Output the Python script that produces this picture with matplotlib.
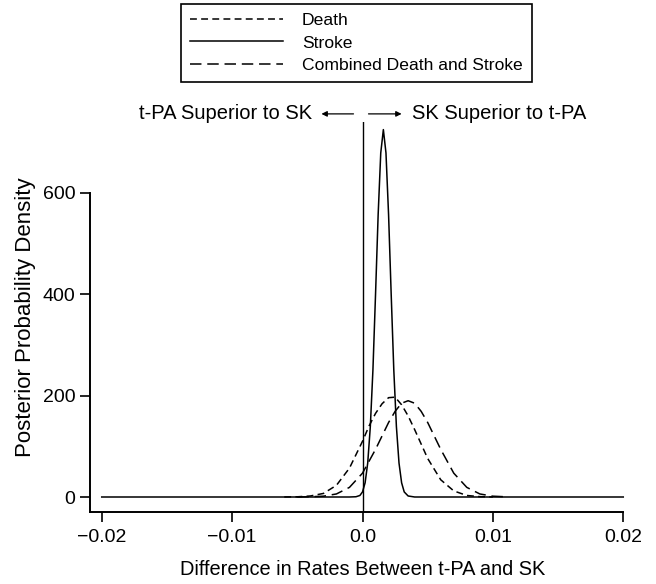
import matplotlib
matplotlib.use("Agg")
import matplotlib.pyplot as plt

plt.rcParams['font.family'] = ['Liberation Sans', 'DejaVu Sans']

# ---- data ----
death_x = [-0.0060, -0.0050, -0.0040, -0.0030, -0.0020, -0.0010, 0.0000, 0.0005, 0.0010,
           0.0015, 0.0020, 0.0025, 0.0030, 0.0035, 0.0040, 0.0050, 0.0060, 0.0070,
           0.0080, 0.0090, 0.0100]
death_y = [0.1, 0.4, 2, 7, 23, 57, 110, 140, 165, 184, 196, 197, 182, 160, 133, 76, 34,
           12, 3, 0.7, 0.1]

stroke_x = [-0.0200, -0.0010, -0.0005, -0.0002, 0.0000, 0.0002, 0.0004, 0.0006, 0.0008,
            0.0010, 0.0012, 0.0014, 0.0016, 0.0018, 0.0020, 0.0022, 0.0024, 0.0026,
            0.0028, 0.0030, 0.0032, 0.0035, 0.0040, 0.0200]
stroke_y = [0, 0, 0.5, 3, 10, 28, 67, 139, 251, 400, 557, 679, 725, 679, 557, 400, 251,
            139, 67, 28, 10, 2, 0, 0]

comb_x = [-0.0050, -0.0040, -0.0030, -0.0020, -0.0010, 0.0000, 0.0010, 0.0020, 0.0025,
          0.0030, 0.0035, 0.0040, 0.0045, 0.0050, 0.0060, 0.0070, 0.0080, 0.0090,
          0.0100, 0.0110]
comb_y = [0.1, 0.5, 1.6, 6, 19, 47, 94, 147, 169, 185, 190, 185, 169, 147, 94, 47, 19,
          6, 1.6, 0.4]

x_ticks = [-0.02, -0.01, 0.0, 0.01, 0.02]
x_ticklabels = ["\u22120.02", "\u22120.01", "0.0", "0.01", "0.02"]
y_ticks = [0, 200, 400, 600]

W, H = 656, 584
fig = plt.figure(figsize=(W / 100, H / 100), dpi=100)
left, right, top, bottom = 90, 635, 122, 512
ax = fig.add_axes([left / W, 1 - bottom / H, (right - left) / W, (bottom - top) / H])

xmin, xmax = -0.0209, 0.0209
ymin, ymax = -29.6, 740
ax.set_xlim(xmin, xmax)
ax.set_ylim(ymin, ymax)

lw = 1.1
l1, = ax.plot(death_x, death_y, color='black', lw=lw, dashes=(4.5, 2.8), label='Death')
l2, = ax.plot(stroke_x, stroke_y, color='black', lw=lw, label='Stroke')
l3, = ax.plot(comb_x, comb_y, color='black', lw=lw, dashes=(7.5, 3.8),
              label='Combined Death and Stroke')
ax.axvline(0, color='black', lw=1.0)

for s in ['top', 'right']:
    ax.spines[s].set_visible(False)
ax.spines['left'].set_bounds(ymin, 600)
ax.spines['bottom'].set_bounds(xmin, 0.02)
ax.spines['left'].set_linewidth(1.4)
ax.spines['bottom'].set_linewidth(1.4)

ax.set_xticks(x_ticks)
ax.set_xticklabels(x_ticklabels)
ax.set_yticks(y_ticks)
ax.tick_params(direction='out', length=7, width=1.2, labelsize=14)
ax.tick_params(axis='x', pad=5)
ax.tick_params(axis='y', pad=3.5)

ax.set_xlabel('Difference in Rates Between t-PA and SK', fontsize=14.4, labelpad=10)
ax.set_ylabel('Posterior Probability Density', fontsize=16, labelpad=5)

# arrows and direction labels
ya = 756
ax.annotate('', xy=(-0.00315, ya), xytext=(-0.00069, ya), annotation_clip=False,
            arrowprops=dict(arrowstyle='-|>', color='black', lw=0.9,
                            mutation_scale=8, shrinkA=0, shrinkB=0))
ax.annotate('', xy=(0.0030, ya), xytext=(0.00046, ya), annotation_clip=False,
            arrowprops=dict(arrowstyle='-|>', color='black', lw=0.9,
                            mutation_scale=8, shrinkA=0, shrinkB=0))
ax.text(-0.00384, ya, 't-PA Superior to SK', ha='right', va='center',
        fontsize=14.5, clip_on=False)
ax.text(0.00376, ya, 'SK Superior to t-PA', ha='left', va='center',
        fontsize=14.5, clip_on=False)

leg = fig.legend(handles=[l1, l2, l3], loc='upper left',
                 bbox_to_anchor=(181 / W, 1 - 4 / H), fontsize=12.6,
                 frameon=True, fancybox=False, edgecolor='black', framealpha=1,
                 handlelength=5.3, handletextpad=1.12, borderpad=0.5,
                 labelspacing=0.42, borderaxespad=0)
leg.get_frame().set_linewidth(1.2)

fig.savefig('out.png', dpi=100)
